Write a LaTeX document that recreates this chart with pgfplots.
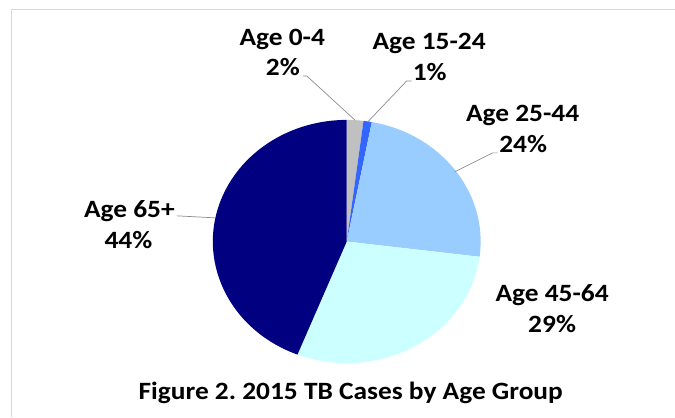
\documentclass[border=0pt]{standalone}
\usepackage{pgfplots}
\pgfplotsset{compat=1.18}
\usepackage{fontspec}
\setmainfont{Carlito}
\frenchspacing
\definecolor{c1}{HTML}{C0C0C0}
\definecolor{c2}{HTML}{3366FF}
\definecolor{c3}{HTML}{99CCFF}
\definecolor{c4}{HTML}{CCFFFF}
\definecolor{c5}{HTML}{000080}
\definecolor{frame}{HTML}{D9D9D9}
\definecolor{leader}{HTML}{8C8C8C}
\newcommand\lab[3]{\node[anchor=base, font=\bfseries\fontsize{25}{30}\selectfont, xscale=1.1, inner sep=0pt] at (axis cs:#1,#2) {#3};}
\begin{document}
\begin{tikzpicture}
\begin{axis}[x=1bp,y=1bp,xmin=0,xmax=675,ymin=0,ymax=417,hide axis,clip=false,enlargelimits=false]
\path (axis cs:0,0) rectangle (axis cs:675,417);
\draw[frame, line width=1bp] (axis cs:12,0) -- (axis cs:12,407) -- (axis cs:675,407);
\gdef\cum{90}
\foreach \p/\col in {2/c1,1/c2,24/c3,29/c4,44/c5}{
  \pgfmathsetmacro\st{\cum}
  \pgfmathsetmacro\en{\cum-3.6*\p}
  \edef\temp{\noexpand\fill[\col] (axis cs:347,175.3) -- ++(\st:134bp and 121.7bp) arc[start angle=\st, end angle=\en, x radius=134bp, y radius=121.7bp] -- cycle;}
  \temp
  \xdef\cum{\en}
}
\draw[leader, line width=0.7bp] (axis cs:303,341) -- (axis cs:307,341) -- (axis cs:355,297);
\draw[leader, line width=0.7bp] (axis cs:412,336) -- (axis cs:407,336) -- (axis cs:368,295);
\draw[leader, line width=0.7bp] (axis cs:498,264) -- (axis cs:493,264) -- (axis cs:455,245);
\draw[leader, line width=0.7bp] (axis cs:177,201) -- (axis cs:215,199);
\lab{282.5}{371}{Age 0-4}
\lab{283}{341}{2\%}
\lab{429.5}{367}{Age 15-24}
\lab{430}{336}{1\%}
\lab{523}{295}{Age 25-44}
\lab{523.5}{264}{24\%}
\lab{552.5}{115}{Age 45-64}
\lab{552.5}{84}{29\%}
\lab{129.5}{199.3}{Age 65+}
\lab{128.5}{168}{44\%}
\lab{351}{17.7}{Figure 2. 2015 TB Cases by Age Group}
\end{axis}
\end{tikzpicture}
\end{document}
